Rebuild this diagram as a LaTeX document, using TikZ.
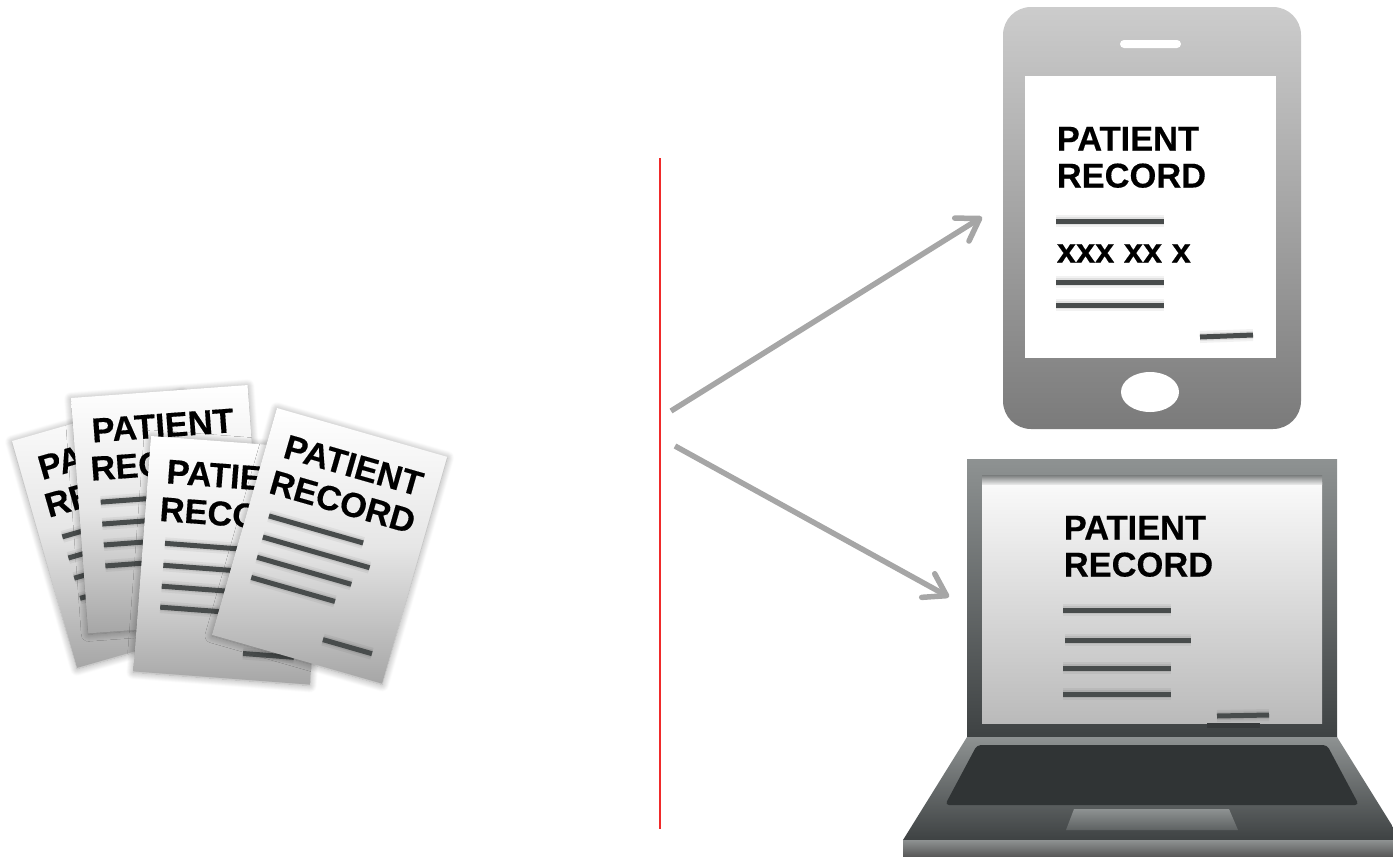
\documentclass[tikz,border=0pt]{standalone}
\usepackage{fontspec}
\setmainfont[BoldFeatures={FakeBold=0.35}]{Liberation Sans}
\usetikzlibrary{arrows.meta,shadows.blur}

\definecolor{lineGray}{HTML}{484C4C}
\definecolor{arrowGray}{HTML}{A6A6A6}
\definecolor{sheetGray}{HTML}{A6A6A6}
\definecolor{keyDark}{HTML}{303435}
\definecolor{lidTop}{HTML}{8E9292}
\definecolor{lidBottom}{HTML}{3E4243}
\definecolor{rulerRed}{HTML}{F02A2A}

\tikzset{
  sheet/.style={shape=rectangle,minimum width=3.54cm,minimum height=4.72cm,inner sep=0pt,
    top color=white,bottom color=sheetGray,middle color=white!72!sheetGray,
    blur shadow={shadow blur steps=10,shadow blur radius=0.14cm,shadow xshift=0cm,shadow yshift=-0.02cm,shadow opacity=40}},
  rectext/.style={font=\bfseries\fontsize{19.6}{21}\selectfont,inner sep=0pt,anchor=base west,text=black},
  docline/.style={draw=lineGray,line width=0.1cm,
    preaction={draw=black,opacity=0.05,line width=0.24cm},
    preaction={draw=black,opacity=0.07,line width=0.16cm}},
  flowarrow/.style={draw=arrowGray,line width=0.11cm,-{Straight Barb[length=0.42cm,width=0.54cm,round]}}
}

\begin{document}
\begin{tikzpicture}[line cap=butt,line join=round,x=0.02cm,y=-0.02cm]
  \useasboundingbox (0,0) rectangle (1393,856);

  % sheets on the left
  \foreach \name/\px/\py/\ang in {sheetA/12/441/16,sheetB/71/398/4.2,sheetC/151/436/-4.3,sheetD/277/408/-16}{
    \begin{scope}[shift={(\px,\py)},rotate=\ang,transform shape]
      \node[sheet] (\name) at (88.5,118) {};
      \node[rectext] (\name-a) at (18,46) {PATIENT};
      \node[rectext] (\name-b) at (14,84) {RECORD};
      \foreach \x/\y/\l in {22/106/98,22/128/111,22/149/98,22/170/87,108/210/51}{
        \draw[docline] (\x,\y) -- ++(\l,0);
      }
    \end{scope}
  }

  % divider
  \draw[draw=rulerRed,line width=0.04cm] (660,158) -- (660,829);

  % arrows
  \coordinate (forkUp) at (671,411);
  \coordinate (phoneIn) at (982,217);
  \coordinate (forkDown) at (675,446);
  \coordinate (laptopIn) at (949,597);
  \draw[flowarrow] (forkUp) -- (phoneIn);
  \draw[flowarrow] (forkDown) -- (laptopIn);

  % phone
  \shade[top color=black!20,bottom color=black!52,rounded corners=0.56cm] (1003,7) rectangle (1301,429);
  \fill[white] (1025,76) rectangle (1276,358);
  \fill[white,rounded corners=0.08cm] (1120,40) rectangle (1181,48);
  \fill[white] (1150,392) ellipse (29 and 20);
  \node[rectext] (phoneHead) at (1056.5,150.5) {PATIENT};
  \node[rectext] (phoneRec) at (1056.5,187.5) {RECORD};
  \node[rectext] (phoneNum) at (1056.5,262.5) {xxx xx x};
  \foreach \y in {221,282,305}{
    \draw[docline] (1056,\y) -- (1164,\y);
  }
  \draw[docline] (1200,337) -- (1253,335);

  % laptop lid
  \shade[top color=lidTop,bottom color=lidBottom] (967,459) rectangle (1337,737);
  \shade[top color=white!98!black,bottom color=black!27] (982,482) rectangle (1322,723);
  \shade[top color=lidTop!85!black,bottom color=black!10] (982,475) rectangle (1322,484);
  \node[rectext] (lapHead) at (1063.5,539.5) {PATIENT};
  \node[rectext] (lapRec) at (1063.5,576.5) {RECORD};
  \draw[docline] (1063,610) -- (1171,610);
  \draw[docline] (1065,640) -- (1191,640);
  \draw[docline] (1063,668) -- (1171,668);
  \draw[docline] (1063,694) -- (1171,694);
  \draw[docline] (1217,716) -- (1269,715);
  \fill[black!12!lidBottom] (1207,723) rectangle (1260,728);

  % laptop base
  \shade[top color=lidTop,bottom color=lidBottom] (967,737) -- (1337,737) -- (1393,827) -- (1393,840) -- (903,840) -- cycle;
  \fill[keyDark,rounded corners=0.08cm] (977,745) -- (1327,745) -- (1359,805) -- (945,805) -- cycle;
  \shade[top color=lidTop,bottom color=lidBottom!60!lidTop] (1074,809) -- (1229,809) -- (1238,830) -- (1066,830) -- cycle;
  \shade[top color=lidTop,bottom color=black!65] (903,840) rectangle (1393,856);
\end{tikzpicture}
\end{document}
